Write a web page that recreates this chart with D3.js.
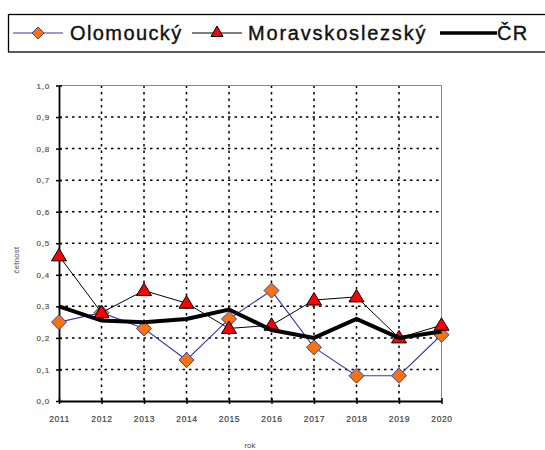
<!DOCTYPE html>
<html><head><meta charset="utf-8">
<script src="https://cdn.jsdelivr.net/npm/d3@7"></script>
<style>body{margin:0;background:#fff}svg{display:block}</style>
</head><body>
<svg id="c" width="545" height="450"></svg>
<script>
const years = ["2011","2012","2013","2014","2015","2016","2017","2018","2019","2020"];
const olomoucky = [0.25,0.28,0.23,0.13,0.26,0.35,0.17,0.08,0.08,0.21];
const moravskoslezsky = [0.46,0.28,0.35,0.31,0.23,0.24,0.32,0.33,0.20,0.24];
const cr = [0.30,0.255,0.25,0.26,0.29,0.225,0.20,0.26,0.20,0.22];
const yTicks = [0,0.1,0.2,0.3,0.4,0.5,0.6,0.7,0.8,0.9,1.0];
const seriesNames = ["Olomoucký","Moravskoslezský","ČR"];

const svg = d3.select("#c");
const L=59, R=441.5, T=85.5, B=401;
const x = d3.scalePoint().domain(years).range([L,R]);
const y = d3.scaleLinear().domain([0,1]).range([B,T]);
const fmt = d=>d3.format(".1f")(d).replace(".",",");
const sf = "Liberation Sans, Arial";

// grid
const g = svg.append("g");
g.selectAll(".hg").data(yTicks.filter(d=>d>0&&d<1)).join("line")
 .attr("x1",L).attr("x2",R).attr("y1",d=>y(d)).attr("y2",d=>y(d))
 .attr("stroke","#000").attr("stroke-width",1.5).attr("stroke-dasharray","2.5,4");
g.selectAll(".vg").data(years.slice(1,-1)).join("line")
 .attr("x1",d=>x(d)).attr("x2",d=>x(d)).attr("y1",T).attr("y2",B)
 .attr("stroke","#000").attr("stroke-width",1.5).attr("stroke-dasharray","2.5,4");
// top & right border
svg.append("line").attr("x1",L).attr("x2",R).attr("y1",T).attr("y2",T).attr("stroke","#888").attr("stroke-width",1);
svg.append("line").attr("x1",R).attr("x2",R).attr("y1",T).attr("y2",B).attr("stroke","#888").attr("stroke-width",1);

// axes
const yAxis = d3.axisLeft(y).tickValues(yTicks).tickFormat(fmt).tickSizeInner(3).tickSizeOuter(0).tickPadding(6);
const ya = svg.append("g").attr("transform",`translate(${L},0)`).call(yAxis);
ya.select(".domain").attr("stroke","#000").attr("stroke-width",1.8);
ya.selectAll(".tick line").attr("x2",3).attr("x1",-3).attr("stroke-width",1.5);
ya.selectAll("text").attr("font-family",sf).attr("font-size",8).attr("letter-spacing",0.8)
  .attr("fill","#555").attr("stroke","#555").attr("stroke-width",0.2);

const xAxis = d3.axisBottom(x).tickSizeInner(3).tickSizeOuter(0).tickPadding(12);
const xa = svg.append("g").attr("transform",`translate(0,${B})`).call(xAxis);
xa.select(".domain").attr("stroke","#000").attr("stroke-width",1.8);
xa.selectAll(".tick line").attr("y1",-3).attr("y2",3).attr("stroke-width",1.5);
xa.selectAll("text").attr("font-family",sf).attr("font-size",8.5).attr("letter-spacing",0.6)
  .attr("fill","#444").attr("stroke","#444").attr("stroke-width",0.2);

svg.append("text").attr("x",250).attr("y",448).attr("text-anchor","middle")
 .attr("font-family",sf).attr("font-size",8).attr("fill","#444").text("rok");
svg.append("text").attr("transform","translate(19,260) rotate(-90)").attr("text-anchor","middle")
 .attr("font-family",sf).attr("font-size",7.5).attr("letter-spacing",0.4).attr("fill","#444").text("četnost");

// lines
const line = d3.line().x((d,i)=>x(years[i])).y(d=>y(d));
svg.append("path").datum(olomoucky).attr("d",line).attr("fill","none").attr("stroke","#3a3aa8").attr("stroke-width",1.1);
const diamond = s=>`M0,${-s}L${s},0L0,${s}L${-s},0Z`;
svg.selectAll(".dm").data(olomoucky).join("path")
 .attr("transform",(d,i)=>`translate(${x(years[i])},${y(d)})`)
 .attr("d",diamond(7.5)).attr("fill","#f7730e").attr("stroke","#3a3aa8").attr("stroke-width",1);

svg.append("path").datum(moravskoslezsky).attr("d",line).attr("fill","none").attr("stroke","#000").attr("stroke-width",1);
const tri = "M0,-7.5L7.5,5L-7.5,5Z";
svg.selectAll(".tr").data(moravskoslezsky).join("path")
 .attr("transform",(d,i)=>`translate(${x(years[i])},${y(d)})`)
 .attr("d",tri).attr("fill","#ff0000").attr("stroke","#000").attr("stroke-width",1);

svg.append("path").datum(cr).attr("d",line).attr("fill","none").attr("stroke","#000").attr("stroke-width",4);

// legend
svg.append("rect").attr("x",8.5).attr("y",14.5).attr("width",560).attr("height",37.5).attr("fill","none").attr("stroke","#000").attr("stroke-width",1.3);
const ly = 33;
svg.append("line").attr("x1",13).attr("x2",63).attr("y1",ly).attr("y2",ly).attr("stroke","#3a3aa8").attr("stroke-width",1.2);
svg.append("path").attr("transform",`translate(38,${ly})`).attr("d",diamond(6)).attr("fill","#f7730e").attr("stroke","#3a3aa8");
svg.append("text").attr("x",70).attr("y",ly+7).attr("font-family",sf).attr("font-size",20).attr("letter-spacing",1.4)
 .attr("fill","#111").attr("stroke","#111").attr("stroke-width",0.4).text(seriesNames[0]);
svg.append("line").attr("x1",192).attr("x2",242).attr("y1",ly).attr("y2",ly).attr("stroke","#000").attr("stroke-width",1.2);
svg.append("path").attr("transform",`translate(217,${ly-1})`).attr("d","M0,-6L6,4.5L-6,4.5Z").attr("fill","#ff0000").attr("stroke","#000");
svg.append("text").attr("x",248).attr("y",ly+7).attr("font-family",sf).attr("font-size",20).attr("letter-spacing",1.8)
 .attr("fill","#111").attr("stroke","#111").attr("stroke-width",0.4).text(seriesNames[1]);
svg.append("line").attr("x1",440).attr("x2",497).attr("y1",ly).attr("y2",ly).attr("stroke","#000").attr("stroke-width",3.5);
svg.append("text").attr("x",497).attr("y",ly+7).attr("font-family",sf).attr("font-size",20).attr("letter-spacing",1.4)
 .attr("fill","#111").attr("stroke","#111").attr("stroke-width",0.4).text(seriesNames[2]);
</script>
</body></html>
